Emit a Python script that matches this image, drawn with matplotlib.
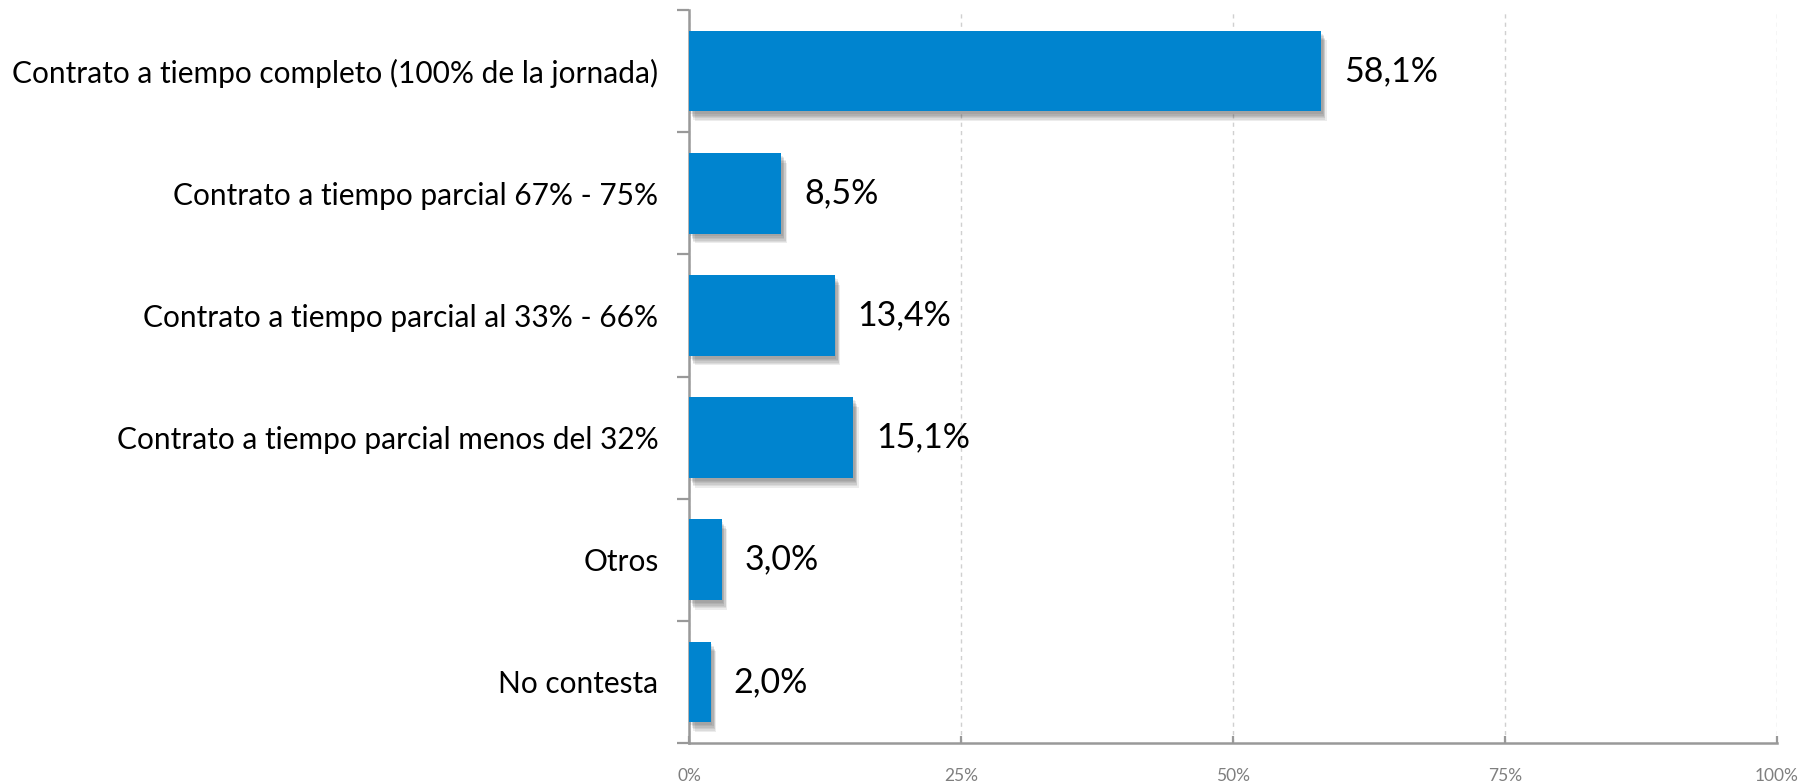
import matplotlib.pyplot as plt
import matplotlib.patheffects as pe
import numpy as np

plt.rcParams['font.family'] = ['Lato', 'DejaVu Sans']

# Categories (top to bottom) and their shares in percent
categories = [
    "Contrato a tiempo completo (100% de la jornada)",
    "Contrato a tiempo parcial 67% - 75%",
    "Contrato a tiempo parcial al 33% - 66%",
    "Contrato a tiempo parcial menos del 32%",
    "Otros",
    "No contesta",
]
values = [58.1, 8.5, 13.4, 15.1, 3.0, 2.0]
xticks = [0, 25, 50, 75, 100]

bar_color = "#0084CF"
axis_color = "#999999"

fig = plt.figure(figsize=(18.17, 7.81), dpi=100)
ax = fig.add_axes([689 / 1817, (781 - 743) / 781, (1777 - 689) / 1817, (743 - 10) / 781])

y = np.arange(len(categories))
bars = ax.barh(y, values, height=0.66, color=bar_color, zorder=3)

# soft drop shadow: stack a few faint offset copies
shadow = [pe.SimplePatchShadow(offset=(dx, -dy), shadow_rgbFace="#333333", alpha=0.09)
          for dx, dy in [(1, 2), (2, 3), (2, 4), (3, 5), (3, 6), (4, 7)]]
for b in bars:
    b.set_path_effects(shadow + [pe.Normal()])

ax.set_xlim(0, 100)
ax.set_ylim(len(categories) - 0.5, -0.5)

# value labels
for yi, v in zip(y, values):
    ax.text(v + 2.1, yi, f"{v:.1f}%".replace(".", ","), va="center", ha="left",
            fontsize=24.5, color="black")

# category labels
ax.set_yticks(y)
ax.set_yticklabels(categories, fontsize=21.5, color="black")
ax.tick_params(axis="y", which="major", length=0, pad=22)
ax.set_yticks(np.arange(len(categories) + 1) - 0.5, minor=True)
ax.tick_params(axis="y", which="minor", length=9, width=1.6, color=axis_color)

ax.set_xticks(xticks)
ax.set_xticklabels([f"{t}%" for t in xticks], fontsize=12.5, color="#7f7f7f")
ax.tick_params(axis="x", length=5, width=1.6, color=axis_color, pad=18, direction="in")

ax.grid(axis="x", color="#d0d0d0", linestyle=(0, (3, 3)), linewidth=1, zorder=0)

for side in ["top", "right"]:
    ax.spines[side].set_visible(False)
for side in ["left", "bottom"]:
    ax.spines[side].set_color(axis_color)
    ax.spines[side].set_linewidth(1.8)

fig.savefig("out.png", dpi=100)
